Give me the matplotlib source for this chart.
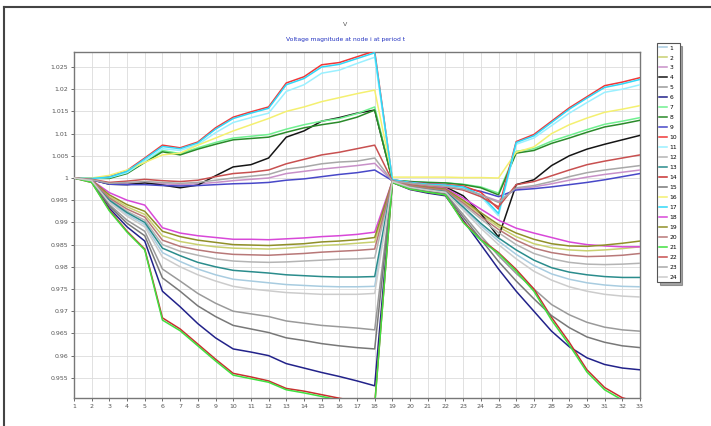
import matplotlib
matplotlib.use("Agg")
import matplotlib.pyplot as plt
from matplotlib.lines import Line2D

OUTPUT_FILE = "out.png"

NODES = list(range(1, 34))

# voltage magnitude (p.u.) at each node, one list per period
P1 = [1.0, 0.9994, 0.9947, 0.9918, 0.9895, 0.9832, 0.9812, 0.9795, 0.9782, 0.9772, 0.9768, 0.9764, 0.9760, 0.9758, 0.9756, 0.9755, 0.9755, 0.9756,
      0.9992, 0.9980, 0.9974, 0.9969, 0.9932, 0.9893, 0.9858, 0.9828, 0.9803, 0.9784, 0.9772, 0.9764, 0.9759, 0.9756, 0.9755]
P2 = [1.0, 0.9995, 0.9958, 0.9935, 0.9918, 0.9870, 0.9857, 0.9850, 0.9845, 0.9842, 0.9841, 0.9840, 0.9842, 0.9845, 0.9848, 0.9850, 0.9853, 0.9856,
      0.9993, 0.9983, 0.9978, 0.9974, 0.9947, 0.9918, 0.9890, 0.9868, 0.9852, 0.9843, 0.9838, 0.9836, 0.9838, 0.9841, 0.9845]
P3 = [1.0, 0.9996, 0.9987, 0.9988, 0.9989, 0.9987, 0.9985, 0.9987, 0.9990, 0.9994, 0.9997, 1.0000, 1.0010, 1.0015, 1.0020, 1.0024, 1.0028, 1.0033,
      0.9993, 0.9988, 0.9984, 0.9981, 0.9974, 0.9962, 0.9948, 0.9976, 0.9980, 0.9987, 0.9995, 1.0002, 1.0008, 1.0013, 1.0018]
P4 = [1.0, 0.9996, 0.9986, 0.9985, 0.9989, 0.9984, 0.9978, 0.9984, 1.0005, 1.0025, 1.0030, 1.0045, 1.0092, 1.0106, 1.0128, 1.0136, 1.0146, 1.0153,
      0.9995, 0.9990, 0.9985, 0.9980, 0.9960, 0.9920, 0.9867, 0.9985, 0.9996, 1.0028, 1.0050, 1.0065, 1.0076, 1.0086, 1.0096]
P5 = [1.0, 0.9993, 0.9940, 0.9905, 0.9880, 0.9795, 0.9768, 0.9740, 0.9718, 0.9700, 0.9694, 0.9688, 0.9678, 0.9673, 0.9668, 0.9665, 0.9662, 0.9658,
      0.9991, 0.9977, 0.9970, 0.9965, 0.9918, 0.9870, 0.9825, 0.9785, 0.9750, 0.9715, 0.9692, 0.9675, 0.9664, 0.9658, 0.9655]
P6 = [1.0, 0.9992, 0.9932, 0.9890, 0.9858, 0.9745, 0.9710, 0.9672, 0.9640, 0.9615, 0.9608, 0.9600, 0.9582, 0.9572, 0.9562, 0.9553, 0.9543, 0.9532,
      0.9990, 0.9974, 0.9966, 0.9960, 0.9905, 0.9850, 0.9795, 0.9745, 0.9700, 0.9655, 0.9620, 0.9595, 0.9580, 0.9572, 0.9568]
P7 = [1.0, 0.9999, 1.0000, 1.0012, 1.0038, 1.0062, 1.0055, 1.0068, 1.0080, 1.0090, 1.0094, 1.0098, 1.0110, 1.0120, 1.0128, 1.0134, 1.0145, 1.0160,
      0.9995, 0.9992, 0.9990, 0.9989, 0.9986, 0.9980, 0.9966, 1.0060, 1.0066, 1.0083, 1.0096, 1.0109, 1.0121, 1.0128, 1.0136]
P8 = [1.0, 0.9999, 0.9999, 1.0010, 1.0035, 1.0059, 1.0052, 1.0065, 1.0076, 1.0086, 1.0089, 1.0092, 1.0103, 1.0113, 1.0120, 1.0126, 1.0137, 1.0153,
      0.9995, 0.9992, 0.9990, 0.9989, 0.9985, 0.9978, 0.9962, 1.0056, 1.0062, 1.0078, 1.0090, 1.0103, 1.0115, 1.0122, 1.0130]
P9 = [1.0, 0.9996, 0.9986, 0.9985, 0.9985, 0.9983, 0.9982, 0.9983, 0.9985, 0.9987, 0.9988, 0.9990, 0.9995, 0.9998, 1.0003, 1.0008, 1.0012, 1.0018,
      0.9994, 0.9990, 0.9987, 0.9985, 0.9978, 0.9970, 0.9958, 0.9973, 0.9976, 0.9980, 0.9985, 0.9990, 0.9996, 1.0003, 1.0010]
P10 = [1.0, 0.9999, 1.0003, 1.0017, 1.0045, 1.0074, 1.0068, 1.0081, 1.0113, 1.0137, 1.0149, 1.0160, 1.0214, 1.0228, 1.0255, 1.0260, 1.0273, 1.0286,
       0.9996, 0.9990, 0.9987, 0.9985, 0.9982, 0.9968, 0.9930, 1.0082, 1.0098, 1.0128, 1.0158, 1.0183, 1.0208, 1.0216, 1.0226]
P11 = [1.0, 0.9999, 1.0001, 1.0012, 1.0038, 1.0066, 1.0062, 1.0075, 1.0102, 1.0125, 1.0136, 1.0146, 1.0195, 1.0210, 1.0236, 1.0243, 1.0258, 1.0272,
       0.9996, 0.9989, 0.9985, 0.9983, 0.9978, 0.9958, 0.9915, 1.0076, 1.0090, 1.0118, 1.0146, 1.0170, 1.0193, 1.0200, 1.0210]
P12 = [1.0, 0.9994, 0.9952, 0.9925, 0.9905, 0.9850, 0.9835, 0.9826, 0.9818, 0.9813, 0.9811, 0.9810, 0.9811, 0.9813, 0.9815, 0.9817, 0.9818, 0.9820,
       0.9993, 0.9982, 0.9976, 0.9972, 0.9940, 0.9908, 0.9877, 0.9850, 0.9830, 0.9818, 0.9810, 0.9806, 0.9805, 0.9806, 0.9808]
P13 = [1.0, 0.9994, 0.9950, 0.9922, 0.9900, 0.9842, 0.9825, 0.9810, 0.9800, 0.9792, 0.9789, 0.9786, 0.9782, 0.9780, 0.9778, 0.9777, 0.9777, 0.9778,
       0.9992, 0.9980, 0.9975, 0.9970, 0.9935, 0.9898, 0.9865, 0.9838, 0.9815, 0.9798, 0.9788, 0.9782, 0.9778, 0.9776, 0.9776]
P14 = [1.0, 0.9990, 0.9928, 0.9880, 0.9840, 0.9685, 0.9660, 0.9626, 0.9592, 0.9560, 0.9552, 0.9543, 0.9526, 0.9520, 0.9512, 0.9504, 0.9497, 0.9490,
       0.9990, 0.9975, 0.9968, 0.9962, 0.9902, 0.9862, 0.9832, 0.9794, 0.9750, 0.9686, 0.9630, 0.9568, 0.9528, 0.9505, 0.9494]
P15 = [1.0, 0.9993, 0.9937, 0.9898, 0.9870, 0.9775, 0.9745, 0.9712, 0.9688, 0.9668, 0.9660, 0.9652, 0.9640, 0.9634, 0.9627, 0.9622, 0.9618, 0.9615,
       0.9991, 0.9976, 0.9969, 0.9963, 0.9912, 0.9862, 0.9812, 0.9768, 0.9728, 0.9690, 0.9663, 0.9642, 0.9630, 0.9622, 0.9618]
P16 = [1.0, 1.0000, 1.0006, 1.0018, 1.0035, 1.0052, 1.0056, 1.0074, 1.0090, 1.0106, 1.0120, 1.0134, 1.0150, 1.0160, 1.0172, 1.0181, 1.0190, 1.0198,
       1.0002, 1.0002, 1.0002, 1.0002, 1.0001, 1.0001, 1.0000, 1.0058, 1.0070, 1.0100, 1.0120, 1.0135, 1.0148, 1.0155, 1.0163]
P17 = [1.0, 0.9999, 1.0002, 1.0015, 1.0043, 1.0071, 1.0066, 1.0079, 1.0110, 1.0134, 1.0146, 1.0157, 1.0210, 1.0224, 1.0250, 1.0256, 1.0269, 1.0282,
       0.9996, 0.9990, 0.9986, 0.9984, 0.9980, 0.9962, 0.9920, 1.0080, 1.0095, 1.0125, 1.0155, 1.0180, 1.0204, 1.0212, 1.0222]
P18 = [1.0, 0.9995, 0.9967, 0.9950, 0.9939, 0.9888, 0.9876, 0.9870, 0.9866, 0.9862, 0.9862, 0.9861, 0.9863, 0.9865, 0.9868, 0.9870, 0.9873, 0.9878,
       0.9993, 0.9985, 0.9980, 0.9977, 0.9955, 0.9930, 0.9905, 0.9887, 0.9876, 0.9866, 0.9856, 0.9850, 0.9847, 0.9845, 0.9845]
P19 = [1.0, 0.9995, 0.9962, 0.9940, 0.9925, 0.9880, 0.9868, 0.9860, 0.9855, 0.9850, 0.9849, 0.9848, 0.9850, 0.9852, 0.9856, 0.9858, 0.9861, 0.9866,
       0.9993, 0.9984, 0.9979, 0.9975, 0.9950, 0.9922, 0.9895, 0.9876, 0.9862, 0.9852, 0.9847, 0.9846, 0.9849, 0.9853, 0.9858]
P20 = [1.0, 0.9995, 0.9955, 0.9930, 0.9912, 0.9860, 0.9846, 0.9838, 0.9832, 0.9828, 0.9827, 0.9826, 0.9828, 0.9830, 0.9833, 0.9835, 0.9837, 0.9840,
       0.9993, 0.9983, 0.9977, 0.9973, 0.9944, 0.9913, 0.9884, 0.9860, 0.9842, 0.9832, 0.9826, 0.9823, 0.9824, 0.9826, 0.9830]
P21 = [1.0, 0.9990, 0.9926, 0.9878, 0.9838, 0.9680, 0.9656, 0.9622, 0.9588, 0.9556, 0.9548, 0.9540, 0.9523, 0.9516, 0.9508, 0.9500, 0.9493, 0.9487,
       0.9990, 0.9975, 0.9968, 0.9962, 0.9900, 0.9860, 0.9830, 0.9790, 0.9745, 0.9680, 0.9624, 0.9563, 0.9523, 0.9500, 0.9489]
P22 = [1.0, 0.9997, 0.9990, 0.9993, 0.9997, 0.9994, 0.9992, 0.9995, 1.0003, 1.0010, 1.0013, 1.0018, 1.0032, 1.0042, 1.0052, 1.0058, 1.0066, 1.0074,
       0.9993, 0.9988, 0.9983, 0.9980, 0.9973, 0.9958, 0.9935, 0.9985, 0.9992, 1.0005, 1.0018, 1.0030, 1.0038, 1.0045, 1.0052]
P23 = [1.0, 0.9996, 0.9988, 0.9990, 0.9992, 0.9990, 0.9988, 0.9990, 0.9995, 1.0000, 1.0004, 1.0008, 1.0020, 1.0025, 1.0032, 1.0036, 1.0038, 1.0045,
       0.9993, 0.9988, 0.9984, 0.9981, 0.9975, 0.9962, 0.9945, 0.9978, 0.9983, 0.9992, 1.0003, 1.0012, 1.0018, 1.0023, 1.0028]
P24 = [1.0, 0.9994, 0.9945, 0.9914, 0.9890, 0.9822, 0.9800, 0.9782, 0.9768, 0.9756, 0.9750, 0.9746, 0.9742, 0.9740, 0.9738, 0.9738, 0.9738, 0.9740,
       0.9992, 0.9979, 0.9973, 0.9968, 0.9928, 0.9887, 0.9850, 0.9818, 0.9790, 0.9770, 0.9755, 0.9745, 0.9738, 0.9734, 0.9732]

PERIODS = [P1, P2, P3, P4, P5, P6, P7, P8, P9, P10, P11, P12,
           P13, P14, P15, P16, P17, P18, P19, P20, P21, P22, P23, P24]
LABELS = ["1", "2", "3", "4", "5", "6", "7", "8", "9", "10", "11", "12",
          "13", "14", "15", "16", "17", "18", "19", "20", "21", "22", "23", "24"]
COLORS = ["#a8cce0", "#c8d070", "#c890c8", "#151515", "#9a9a9a", "#22228a",
          "#70f090", "#2a8a2a", "#4848c8", "#f03838", "#9af0ff", "#b4b4b4",
          "#2a8c8c", "#c83030", "#787878", "#f4f070", "#30d8f8", "#d848d8",
          "#909028", "#b87878", "#40e040", "#c85050", "#a8a8a8", "#cccccc"]

YTICKS = [0.955, 0.96, 0.965, 0.97, 0.975, 0.98, 0.985, 0.99, 0.995,
          1.0, 1.005, 1.01, 1.015, 1.02, 1.025]
YTICK_LABELS = ["0.955", "0.96", "0.965", "0.97", "0.975", "0.98", "0.985",
                "0.99", "0.995", "1", "1.005", "1.01", "1.015", "1.02", "1.025"]

plt.rcParams.update({
    "font.family": "DejaVu Sans",
    "font.size": 4.5,
})

fig = plt.figure(figsize=(7.11, 4.26), dpi=100)
fig.patch.set_facecolor("white")
ax = fig.add_axes([74 / 711, 28 / 426, 566 / 711, 346 / 426])

for vals, lab, col in zip(PERIODS, LABELS, COLORS):
    ax.plot(NODES, vals, color=col, linewidth=1.1, label=lab, zorder=3)

ax.set_xlim(1, 33)
ax.set_ylim(0.95045, 1.02838)
ax.set_xticks(NODES)
ax.set_xticklabels([str(n) for n in NODES])
ax.set_yticks(YTICKS)
ax.set_yticklabels(YTICK_LABELS)
ax.tick_params(labelsize=4.5, colors="#555555", length=2, width=0.6, pad=2)
ax.grid(True, color="#dcdcdc", linewidth=0.6)
ax.set_axisbelow(True)
for sp in ax.spines.values():
    sp.set_color("#777777")
    sp.set_linewidth(1.0)

fig.text(345 / 711, 1 - 24 / 426, "V", ha="center", va="center",
         fontsize=4.5, color="#555555")
fig.text(346 / 711, 1 - 40 / 426, "Voltage magnitude at node i at period t",
         ha="center", va="center", fontsize=4.3, color="#2030c0")

leg = fig.legend(loc="upper left", bbox_to_anchor=(657 / 711, 1 - 43 / 426),
                 fontsize=4.3, handlelength=1.3, handletextpad=0.4,
                 labelspacing=0.8, borderpad=0.4, borderaxespad=0,
                 fancybox=False, shadow=True, framealpha=1)
leg.get_frame().set_edgecolor("#555555")
leg.get_frame().set_linewidth(0.8)

# outer window frame
fig.add_artist(Line2D([4 / 711, 1], [1 - 7 / 426, 1 - 7 / 426],
                      color="#444444", linewidth=1.5, transform=fig.transFigure))
fig.add_artist(Line2D([4 / 711, 4 / 711], [0, 1 - 7 / 426],
                      color="#444444", linewidth=1.5, transform=fig.transFigure))

fig.savefig(OUTPUT_FILE, dpi=100, facecolor="white")
